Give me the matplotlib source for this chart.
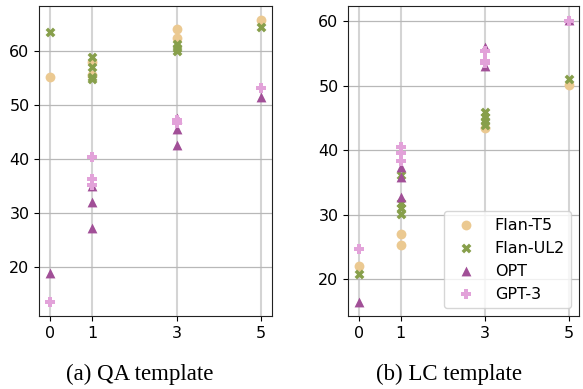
import matplotlib
matplotlib.use("Agg")
import matplotlib.pyplot as plt

models = ["Flan-T5", "Flan-UL2", "OPT", "GPT-3"]
colors = ["#ebc991", "#879f4b", "#a14f97", "#e2a2d9"]
markers = ["o", "X", "^", "P"]

# QA template: (shot, value)
qa_t5_x = [0, 1, 1, 3, 3, 5]
qa_t5_y = [55.2, 58.0, 55.5, 64.1, 62.3, 65.7]
qa_ul2_x = [0, 1, 1, 1, 1, 3, 3, 3, 5]
qa_ul2_y = [63.4, 58.9, 57.0, 55.1, 54.7, 61.3, 60.6, 59.9, 64.4]
qa_opt_x = [0, 1, 1, 1, 3, 3, 3, 5]
qa_opt_y = [18.8, 35.0, 32.0, 27.2, 47.6, 45.5, 42.6, 51.4]
qa_gpt_x = [0, 1, 1, 1, 3, 3, 5]
qa_gpt_y = [13.5, 40.4, 36.3, 35.2, 47.1, 46.6, 53.1]

# LC template
lc_t5_x = [0, 1, 1, 3, 5]
lc_t5_y = [22.0, 27.1, 25.3, 43.5, 50.1]
lc_ul2_x = [0, 1, 1, 1, 1, 3, 3, 3, 3, 5]
lc_ul2_y = [20.8, 36.1, 31.8, 31.0, 30.2, 45.9, 45.2, 44.5, 43.9, 51.0]
lc_opt_x = [0, 1, 1, 1, 3, 3, 5]
lc_opt_y = [16.5, 37.4, 35.9, 32.8, 56.0, 53.1, 60.2]
lc_gpt_x = [0, 1, 1, 1, 3, 3, 3, 5]
lc_gpt_y = [24.7, 40.5, 39.6, 38.4, 55.4, 53.9, 53.5, 60.1]

xticks = [0, 1, 3, 5]
yticks = [20, 30, 40, 50, 60]

qa = [(qa_t5_x, qa_t5_y), (qa_ul2_x, qa_ul2_y), (qa_opt_x, qa_opt_y), (qa_gpt_x, qa_gpt_y)]
lc = [(lc_t5_x, lc_t5_y), (lc_ul2_x, lc_ul2_y), (lc_opt_x, lc_opt_y), (lc_gpt_x, lc_gpt_y)]

fig = plt.figure(figsize=(5.83, 3.89), dpi=100)
ax1 = fig.add_axes([0.0674, 0.1877, 0.3986, 0.797])
ax2 = fig.add_axes([0.5974, 0.1877, 0.3963, 0.797])

for ax, data in [(ax1, qa), (ax2, lc)]:
    ax.set_axisbelow(True)
    ax.grid(True, axis="x", color="#d4d4d4", linewidth=1.5)
    ax.grid(True, axis="y", color="#b8b8b8", linewidth=0.9)
    for (xs, ys), name, c, m in zip(data, models, colors, markers):
        ax.scatter(xs, ys, color=c, marker=m, s=50, linewidths=0, label=name, zorder=3)
    ax.set_xticks(xticks)
    ax.set_yticks(yticks)
    ax.tick_params(labelsize=11.5, length=3.5)
    for sp in ax.spines.values():
        sp.set_color("#222222")

ax2.legend(loc="lower right", fontsize=11.5, frameon=True)

fig.text(0.240, 0.023, "(a) QA template", fontsize=16.5, family="Liberation Serif",
         ha="center", va="baseline")
fig.text(0.770, 0.023, "(b) LC template", fontsize=16.5, family="Liberation Serif",
         ha="center", va="baseline")

fig.savefig("out.png", dpi=100)
